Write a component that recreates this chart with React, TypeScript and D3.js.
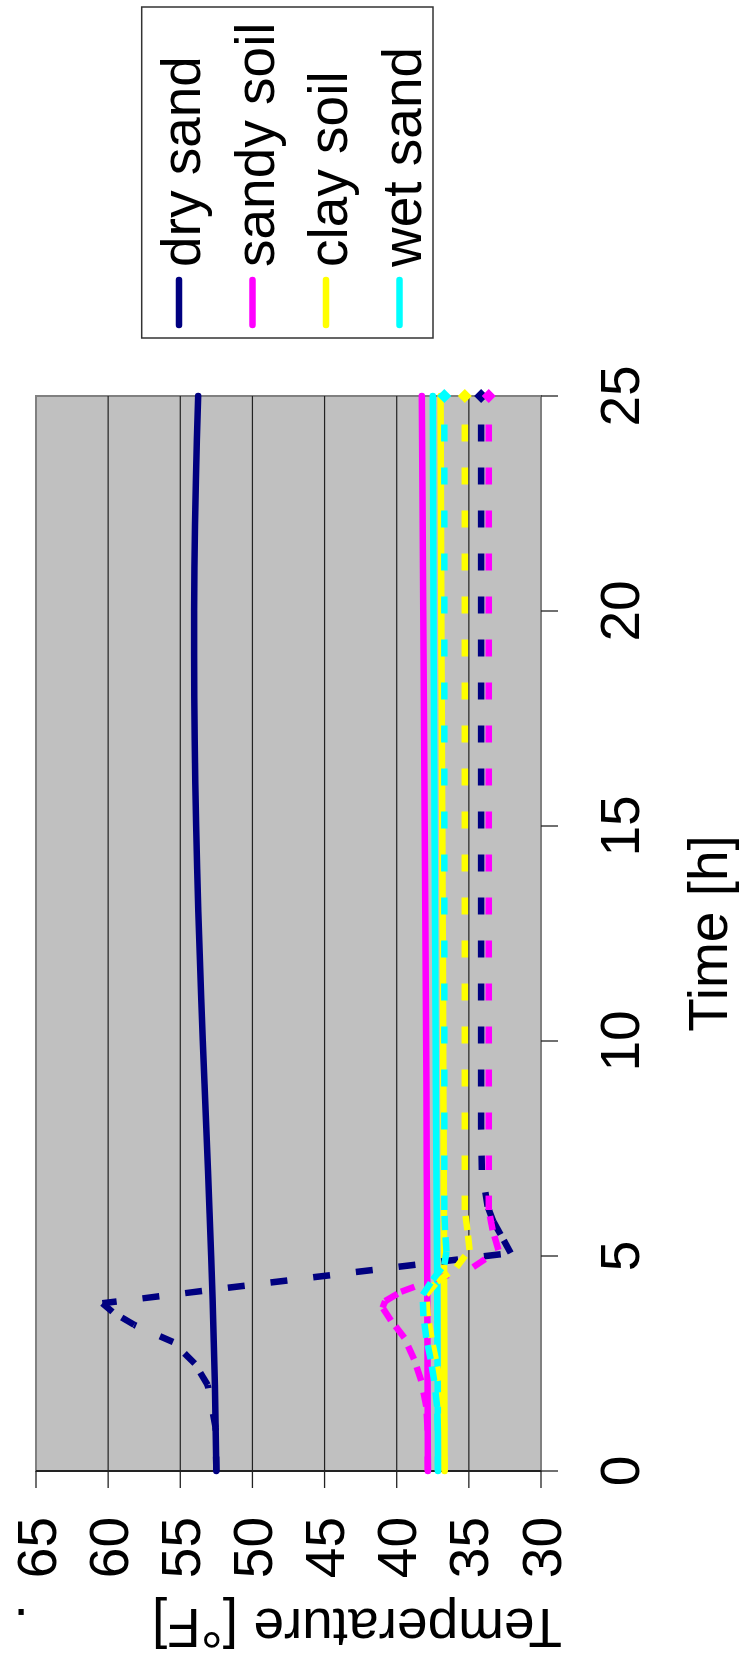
import React from "react";
import * as d3 from "d3";

// ---- data (time in hours, temperature in °F) ----
const seriesNames = ["dry sand", "sandy soil", "clay soil", "wet sand"];
const seriesColors = ["#000080", "#FF00FF", "#FFFF00", "#00FFFF"];

const hours = [0,1,2,3,4,5,6,7,8,9,10,11,12,13,14,15,16,17,18,19,20,21,22,23,24,25];
const drySandSolid = [52.5,52.55,52.6,52.68,52.76,52.86,52.97,53.08,53.2,53.32,53.44,53.55,53.65,53.75,53.83,53.9,53.96,54.0,54.03,54.04,54.04,54.02,53.98,53.92,53.85,53.76];
const sandySoilSolid = [37.84,37.85,37.86,37.87,37.88,37.89,37.9,37.92,37.93,37.94,37.96,37.98,38.0,38.02,38.04,38.06,38.08,38.1,38.12,38.14,38.16,38.18,38.2,38.22,38.24,38.26];
const claySoilSolid = [36.68,36.69,36.7,36.7,36.71,36.72,36.73,36.74,36.75,36.77,36.78,36.79,36.8,36.82,36.83,36.84,36.86,36.87,36.88,36.9,36.91,36.92,36.93,36.94,36.95,36.96];
const wetSandSolid = [37.14,37.15,37.16,37.18,37.19,37.21,37.23,37.25,37.27,37.29,37.3,37.32,37.33,37.35,37.36,37.38,37.39,37.41,37.42,37.44,37.45,37.46,37.47,37.48,37.49,37.5];

const drySandDashT = [0,1,2,2.5,3,3.4,3.7,3.9,5.07,5.5,5.8,6.15,7,8,9,10,11,12,13,14,15,16,17,18,19,20,21,22,23,24,25];
const drySandDashV = [52.5,52.55,53.1,54.0,55.5,58.2,59.7,60.4,32.1,32.8,33.3,33.7,34.1,34.15,34.15,34.15,34.15,34.15,34.15,34.15,34.15,34.15,34.15,34.15,34.15,34.15,34.15,34.15,34.15,34.15,34.15];

const sandySoilDashT = [0,1,1.5,2.1,2.6,3.1,3.5,3.8,3.95,4.17,4.46,4.74,5.14,5.6,6.07,7,8,9,10,11,12,13,14,15,16,17,18,19,20,21,22,23,24,25];
const sandySoilDashV = [37.84,37.86,37.95,38.3,38.8,39.47,40.4,40.98,40.8,39.7,37.37,34.7,32.95,33.35,33.62,33.62,33.62,33.62,33.62,33.62,33.62,33.62,33.62,33.62,33.62,33.62,33.62,33.62,33.62,33.62,33.62,33.62,33.62,33.62];

const claySoilDashT = [0,1,1.5,2.1,2.6,3.1,3.6,4.1,4.4,4.74,5.14,5.6,6.07,7,8,9,10,11,12,13,14,15,16,17,18,19,20,21,22,23,24,25];
const claySoilDashV = [36.68,36.7,36.8,37.0,37.3,37.6,37.85,37.95,37.2,35.86,34.95,35.1,35.28,35.28,35.28,35.28,35.28,35.28,35.28,35.28,35.28,35.28,35.28,35.28,35.28,35.28,35.28,35.28,35.28,35.28,35.28,35.28];

const wetSandDashT = [0,1,1.5,2.1,2.6,3.1,3.6,4.1,4.45,4.8,5.1,5.6,6.07,7,8,9,10,11,12,13,14,15,16,17,18,19,20,21,22,23,24,25];
const wetSandDashV = [37.14,37.15,37.2,37.4,37.65,37.95,38.15,38.2,37.5,36.7,36.55,36.65,36.7,36.7,36.7,36.7,36.7,36.7,36.7,36.7,36.7,36.7,36.7,36.7,36.7,36.7,36.7,36.7,36.7,36.7,36.7,36.7];

const tempTicks = [65,60,55,50,45,40,35,30];
const timeTicks = [0,5,10,15,20,25];
const tempTitle = "Temperature [°F]";
const timeTitle = "Time [h]";

type Pt = { t: number; v: number };
const zip = (ts: number[], vs: number[]): Pt[] => ts.map((t, i) => ({ t, v: vs[i] }));

const solidSeries = [
  zip(hours, drySandSolid),
  zip(hours, sandySoilSolid),
  zip(hours, claySoilSolid),
  zip(hours, wetSandSolid),
];
const dashSeries = [
  zip(drySandDashT, drySandDashV),
  zip(sandySoilDashT, sandySoilDashV),
  zip(claySoilDashT, claySoilDashV),
  zip(wetSandDashT, wetSandDashV),
];

const W = 746, H = 1659;
const FONT = "'Liberation Sans', Arial, Helvetica, sans-serif";
const FS = 55;

export default function App() {
  // chart is rotated: temperature runs horizontally (65 left -> 30 right), time vertically (0 bottom -> 25 top)
  const x = d3.scaleLinear().domain([65, 30]).range([36, 541]);
  const y = d3.scaleLinear().domain([0, 25]).range([1471, 396]);
  const line = d3.line<Pt>().x((d) => x(d.v)).y((d) => y(d.t));

  const plotL = x(65), plotR = x(30), plotT = y(25), plotB = y(0);

  const legendX = [200, 273.5, 347, 420.5];

  return (
    <svg width={W} height={H} style={{ position: "absolute", left: 0, top: 0, background: "#fff" }} fontFamily={FONT}>
      {/* plot area */}
      <rect x={plotL} y={plotT} width={plotR - plotL} height={plotB - plotT} fill="#C0C0C0" stroke="#808080" strokeWidth={2} />
      {tempTicks.filter((t) => t !== 65 && t !== 30).map((t) => (
        <line key={"g" + t} x1={x(t)} x2={x(t)} y1={plotT} y2={plotB} stroke="#222" strokeWidth={1.2} />
      ))}
      {/* axes */}
      <line x1={plotL} x2={plotR} y1={plotB} y2={plotB} stroke="#222" strokeWidth={2} />
      {tempTicks.map((t) => (
        <line key={"tt" + t} x1={x(t)} x2={x(t)} y1={plotB} y2={plotB + 17} stroke="#222" strokeWidth={1.3} />
      ))}
      {timeTicks.map((t) => (
        <line key={"ht" + t} x1={plotR} x2={plotR + 17} y1={y(t)} y2={y(t)} stroke="#222" strokeWidth={1.3} />
      ))}

      {/* solid series */}
      {solidSeries.map((s, i) => (
        <path key={"s" + i} d={line(s) || ""} fill="none" stroke={seriesColors[i]} strokeWidth={6.5} strokeLinecap="round" strokeLinejoin="round" />
      ))}
      {/* dashed series, dash pattern restarting on every segment */}
      {dashSeries.map((s, i) => (
        <g key={"d" + i}>
          {s.slice(0, -1).map((p, j) => (
            <path key={j} d={line([p, s[j + 1]]) || ""} fill="none" stroke={seriesColors[i]} strokeWidth={6.5}
              strokeDasharray="17 26" strokeDashoffset={2.6} strokeLinecap="butt" />
          ))}
          {(() => {
            const last = s[s.length - 1];
            const cx = x(last.v), cy = y(last.t), r = 7;
            return <path d={`M${cx},${cy - r}L${cx + r},${cy}L${cx},${cy + r}L${cx - r},${cy}Z`} fill={seriesColors[i]} />;
          })()}
        </g>
      ))}

      {/* tick labels */}
      {tempTicks.map((t) => (
        <text key={"tl" + t} transform={`translate(${x(t) + 19.5},${1517}) rotate(-90)`} textAnchor="end" fontSize={FS} fill="#000">{t}</text>
      ))}
      {timeTicks.map((t) => (
        <text key={"hl" + t} transform={`translate(639,${y(t)}) rotate(-90)`} textAnchor="middle" fontSize={FS} fill="#000">{t}</text>
      ))}

      {/* axis titles */}
      <text transform={`translate(727,${(plotT + plotB) / 2}) rotate(-90)`} textAnchor="middle" fontSize={FS} fill="#000">{timeTitle}</text>
      <text transform={`translate(357,1609) rotate(180)`} textAnchor="middle" fontSize={FS} fill="#000">{tempTitle}</text>
      <text transform={`translate(21,1609) rotate(180)`} textAnchor="middle" fontSize={FS} fill="#000">.</text>

      {/* legend */}
      <rect x={141.7} y={7} width={291.3} height={331} fill="#fff" stroke="#333" strokeWidth={1.5} />
      {seriesNames.map((n, i) => (
        <g key={"l" + i}>
          <line x1={legendX[i] - 21} x2={legendX[i] - 21} y1={280} y2={325} stroke={seriesColors[i]} strokeWidth={6.5} strokeLinecap="round" />
          <text transform={`translate(${legendX[i]},267) rotate(-90)`} textAnchor="start" fontSize={FS} fill="#000">{n}</text>
        </g>
      ))}
    </svg>
  );
}
